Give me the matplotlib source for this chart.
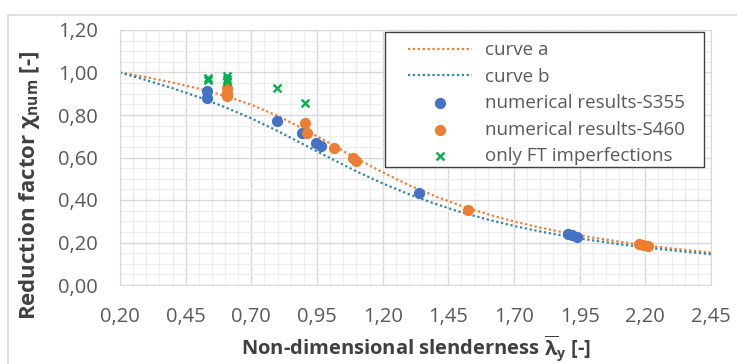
import matplotlib
matplotlib.use("Agg")
import matplotlib.pyplot as plt
from matplotlib.ticker import MultipleLocator, FixedLocator, FuncFormatter
from matplotlib.patches import Rectangle

plt.rcParams['font.family'] = ['Open Sans', 'DejaVu Sans']
plt.rcParams['mathtext.fontset'] = 'custom'
plt.rcParams['mathtext.rm'] = 'Open Sans:bold'
plt.rcParams['mathtext.it'] = 'Open Sans:bold'
plt.rcParams['mathtext.bf'] = 'Open Sans:bold'

# buckling curves a and b
lam_curve = [0.20, 0.30, 0.40, 0.50, 0.60, 0.70, 0.80, 0.90, 1.00, 1.10, 1.20, 1.30,
             1.40, 1.50, 1.60, 1.70, 1.80, 1.90, 2.00, 2.10, 2.20, 2.30, 2.40, 2.45]
chi_a = [1.000, 0.978, 0.953, 0.924, 0.890, 0.848, 0.796, 0.734, 0.666, 0.596, 0.530, 0.470,
         0.418, 0.372, 0.333, 0.299, 0.270, 0.245, 0.223, 0.204, 0.187, 0.172, 0.159, 0.152]
chi_b = [1.000, 0.964, 0.926, 0.884, 0.837, 0.784, 0.725, 0.661, 0.597, 0.535, 0.478, 0.427,
         0.382, 0.342, 0.308, 0.278, 0.252, 0.229, 0.210, 0.192, 0.177, 0.163, 0.151, 0.145]

# numerical results
lam_s355 = [0.532, 0.532, 0.799, 0.892, 0.945, 0.965, 1.339, 1.906, 1.922, 1.940]
chi_s355 = [0.913, 0.882, 0.773, 0.717, 0.668, 0.652, 0.432, 0.240, 0.234, 0.227]
lam_s460 = [0.606, 0.606, 0.606, 0.904, 0.911, 1.015, 1.087, 1.100, 1.526, 2.175, 2.190, 2.210]
chi_s460 = [0.925, 0.905, 0.890, 0.761, 0.714, 0.646, 0.598, 0.582, 0.353, 0.195, 0.190, 0.185]
lam_ft = [0.534, 0.534, 0.606, 0.606, 0.606, 0.797, 0.904]
chi_ft = [0.975, 0.965, 0.982, 0.970, 0.958, 0.925, 0.855]

x_ticks = [0.20, 0.45, 0.70, 0.95, 1.20, 1.45, 1.70, 1.95, 2.20, 2.45]

fig = plt.figure(figsize=(7.37, 3.64), dpi=100)
ax = fig.add_axes([120/737, 1-285/364, (711-120)/737, (285-30)/364])

ax.plot(lam_curve, chi_a, color='#ED7D31', lw=1.6, dashes=(1, 1.2), label='curve a')
ax.plot(lam_curve, chi_b, color='#2E86A3', lw=1.6, dashes=(1, 1.2), label='curve b')
ax.scatter(lam_s355, chi_s355, s=50, color='#4472C4', zorder=3, label='numerical results-S355')
ax.scatter(lam_s460, chi_s460, s=50, color='#ED7D31', zorder=3, label='numerical results-S460')
ax.scatter(lam_ft, chi_ft, s=32, marker='x', color='#00B050', linewidths=1.7, zorder=4,
           label='only FT imperfections')

ax.set_xlim(0.20, 2.45)
ax.set_ylim(0, 1.20)
ax.xaxis.set_major_locator(FixedLocator(x_ticks))
ax.xaxis.set_minor_locator(MultipleLocator(0.05))
ax.yaxis.set_major_locator(MultipleLocator(0.20))
ax.yaxis.set_minor_locator(MultipleLocator(0.05))
comma = FuncFormatter(lambda v, p: f"{v:.2f}".replace('.', ','))
ax.xaxis.set_major_formatter(comma)
ax.yaxis.set_major_formatter(comma)
ax.grid(which='major', color='#D9D9D9', lw=1.0)
ax.grid(which='minor', color='#EDEDED', lw=0.9)
ax.set_axisbelow(True)
ax.tick_params(which='both', length=0, labelsize=14.5, labelcolor='#595959')
ax.tick_params(axis='x', pad=16)
ax.tick_params(axis='y', pad=16)
for s in ax.spines.values():
    s.set_color('#D9D9D9')

ax.set_xlabel(r"Non-dimensional slenderness $\overline{\lambda}_y$ [-]", fontsize=14.5,
              fontweight='bold', color='#404040')
ax.set_ylabel(r"Reduction factor $\chi_{num}$ [-]", fontsize=16,
              fontweight='bold', color='#404040')
ax.xaxis.set_label_coords(0.5, -0.19)
ax.yaxis.set_label_coords(-0.132, 0.39)

# legend box drawn separately so its size can be set
ax.add_patch(Rectangle((0.4484, 0.4627), 0.5398, 0.5295, transform=ax.transAxes,
                       facecolor='white', edgecolor='#404040', lw=1.0, zorder=5))
leg = ax.legend(loc='upper left', bbox_to_anchor=(0.4873, 0.956), fontsize=13.5,
                frameon=False, handlelength=3.4, handletextpad=0.7, borderpad=0,
                labelspacing=0.45, borderaxespad=0)
leg.set_zorder(6)
for t in leg.get_texts():
    t.set_color('#595959')

# chart area border
fig.patches.append(Rectangle((8/737, -0.1), 1.0, 1-15/364 + 0.1, transform=fig.transFigure,
                             fill=False, edgecolor='#D9D9D9', lw=1.2))

fig.savefig('out.png', dpi=100)
